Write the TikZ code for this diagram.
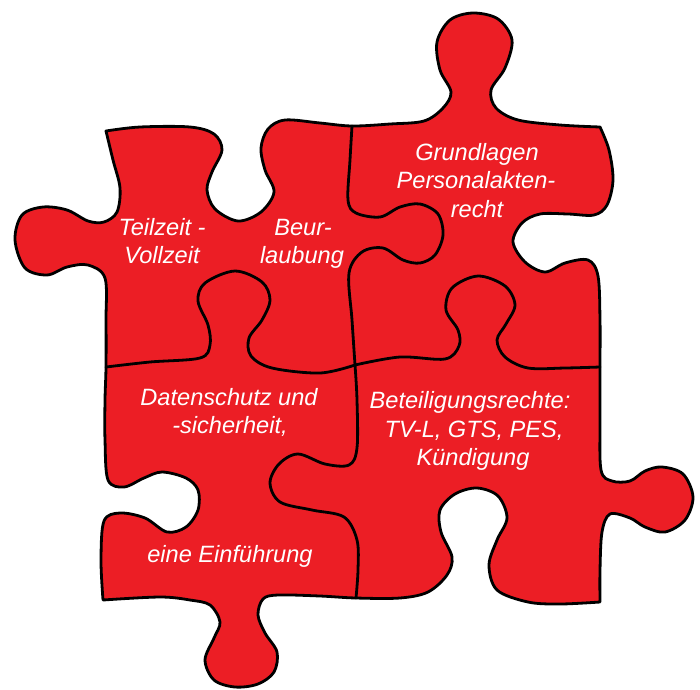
\documentclass[tikz,border=0pt]{standalone}
\usepackage{fontspec}
\setmainfont{Liberation Sans}
\definecolor{puzzlered}{RGB}{236,30,37}
\tikzset{
  outline/.style={draw=black, line width=2.8pt, line join=round, fill=puzzlered},
  seam/.style={draw=black, line width=2.8pt, line cap=round},
  lbl/.style={text=white, anchor=base, inner sep=0pt, font=\fontsize{23.6}{28}\selectfont\itshape}
}
\begin{document}
\begin{tikzpicture}[x=1pt, y=-1pt]
\useasboundingbox (0,0) rectangle (700,689);
% outer outline
\path[outline]
  plot[smooth, tension=0.55] coordinates {(106,131) (140,127) (190,127) (214,134) (222,150) (212,172) (207,190) (215,209) (238,221) (261,212) (274,192) (265,170) (261,148) (268,129) (285,120) (320,123) (352,126) (390,124) (424,121) (443,108) (451,92) (440,70) (437,42) (450,20) (473,13) (498,19) (512,40) (505,68) (491,90) (496,108) (518,120) (560,125) (600,127)}
  -- plot[smooth, tension=0.55] coordinates {(600,127) (609,150) (613,180) (607,205) (594,215) (568,214) (540,214) (522,223) (513,242) (525,262) (545,272) (565,263) (588,260) (598,276) (600,320) (600,367) (600,420) (601,470) (612,481) (630,481) (645,471) (662,467) (683,474) (693,497) (685,520) (665,532) (645,527) (630,518) (610,514) (602,532) (600,570) (600,602)}
  -- plot[smooth, tension=0.55] coordinates {(600,602) (560,604) (528,602) (497,590) (489,565) (497,540) (507,518) (498,496) (477,488) (455,494) (440,510) (441,532) (452,557) (447,575) (428,592) (400,598) (356,598) (320,596) (278,595) (263,599) (258,615) (265,633) (277,652) (274,672) (258,684) (235,687) (214,680) (205,660) (214,638) (220,622) (210,605) (190,600) (160,597) (103,600)}
  -- plot[smooth, tension=0.55] coordinates {(103,600) (101,560) (104,521) (120,513) (145,518) (167,532) (186,527) (198,510) (198,490) (186,478) (162,472) (144,478) (124,487) (108,480) (105,440) (105,400) (106,367) (106,320) (105,278) (88,265) (67,267) (47,275) (25,268) (15,240) (22,215) (43,207) (67,210) (88,221) (104,222) (117,212) (120,188) (113,160) (106,131)}
  -- cycle;
% seam A: top-left | top-right
\draw[seam] plot[smooth, tension=0.55] coordinates {(352,126) (350,160) (348,200) (356,213) (380,217) (400,207) (420,204) (438,214) (443,235) (435,255) (420,263) (403,260) (383,248) (362,252) (349,273) (352,320) (355,365)};
% seam B: top-right | bottom-right
\draw[seam] plot[smooth, tension=0.55] coordinates {(355,365) (400,357) (445,359) (459,346) (458,330) (446,310) (452,288) (478,276) (505,286) (515,305) (506,324) (497,340) (505,357) (528,368) (565,368) (600,367)};
% seam C: top-left | bottom-left
\draw[seam] plot[smooth, tension=0.55] coordinates {(106,367) (150,362) (200,358) (210,345) (208,325) (198,301) (205,283) (235,271) (262,282) (270,300) (262,320) (249,338) (251,356) (272,368) (320,373) (355,365)};
% seam D: bottom-left | bottom-right
\draw[seam] plot[smooth, tension=0.55] coordinates {(355,365) (357,400) (357,448) (349,465) (325,464) (298,454) (279,464) (270,483) (280,502) (312,510) (344,517) (357,540) (358,570) (356,598)};
% labels
\node[lbl] (t1) at (162,235) {Teilzeit -};
\node[lbl] (t2) at (162,263) {Vollzeit};
\node[lbl] (b1) at (303,235) {Beur-};
\node[lbl] (b2) at (302,263) {laubung};
\node[lbl] (g1) at (477,160) {Grundlagen};
\node[lbl] (g2) at (476,188) {Personalakten-};
\node[lbl] (g3) at (477,217) {recht};
\node[lbl] (d1) at (229,405) {Datenschutz und};
\node[lbl] (d2) at (230,433) {-sicherheit,};
\node[lbl] (d3) at (230,562) {eine Einführung};
\node[lbl] (r1) at (470,408) {Beteiligungsrechte:};
\node[lbl] (r2) at (474,437) {TV-L, GTS, PES,};
\node[lbl] (r3) at (473,465) {Kündigung};
\end{tikzpicture}
\end{document}
